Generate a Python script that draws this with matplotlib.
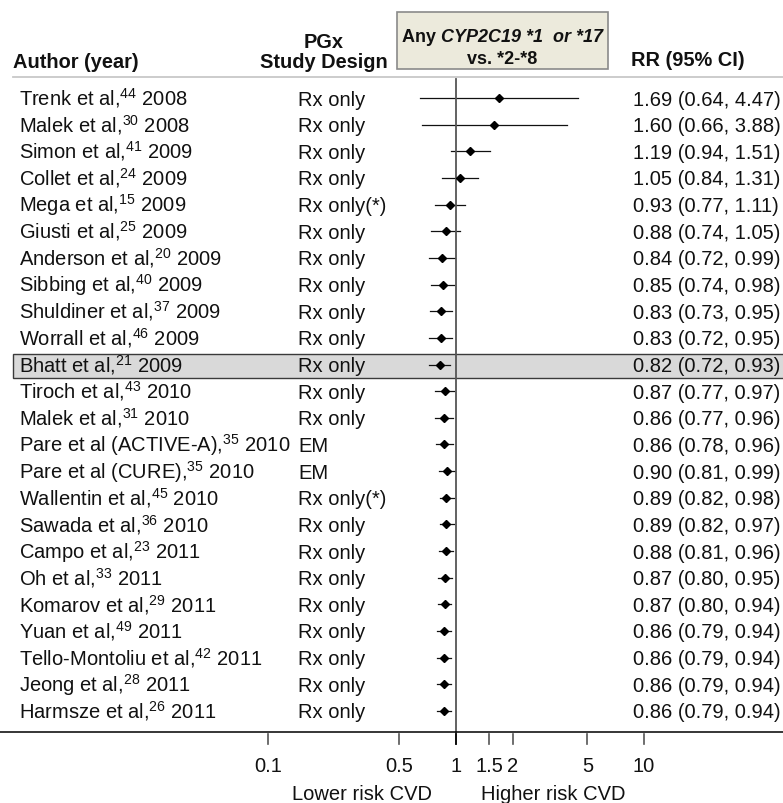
import matplotlib
matplotlib.use("Agg")
import matplotlib.pyplot as plt
from matplotlib.patches import Rectangle
import numpy as np

plt.rcParams['font.family'] = ['Liberation Sans', 'DejaVu Sans']
plt.rcParams['mathtext.fontset'] = 'custom'
plt.rcParams['mathtext.rm'] = 'Liberation Sans'
plt.rcParams['mathtext.it'] = 'Liberation Sans:italic'
plt.rcParams['mathtext.bf'] = 'Liberation Sans:bold'
plt.rcParams['mathtext.default'] = 'regular'

# ---------------- data ----------------
authors = ["Trenk et al", "Malek et al", "Simon et al", "Collet et al", "Mega et al",
           "Giusti et al", "Anderson et al", "Sibbing et al", "Shuldiner et al",
           "Worrall et al", "Bhatt et al", "Tiroch et al", "Malek et al",
           "Pare et al (ACTIVE-A)", "Pare et al (CURE)", "Wallentin et al",
           "Sawada et al", "Campo et al", "Oh et al", "Komarov et al", "Yuan et al",
           "Tello-Montoliu et al", "Jeong et al", "Harmsze et al"]
refs = ["44", "30", "41", "24", "15", "25", "20", "40", "37", "46", "21", "43", "31",
        "35", "35", "45", "36", "23", "33", "29", "49", "42", "28", "26"]
years = ["2008", "2008", "2009", "2009", "2009", "2009", "2009", "2009", "2009", "2009",
         "2009", "2010", "2010", "2010", "2010", "2010", "2010", "2011", "2011", "2011",
         "2011", "2011", "2011", "2011"]
designs = ["Rx only", "Rx only", "Rx only", "Rx only", "Rx only(*)", "Rx only", "Rx only",
           "Rx only", "Rx only", "Rx only", "Rx only", "Rx only", "Rx only", "EM", "EM",
           "Rx only(*)", "Rx only", "Rx only", "Rx only", "Rx only", "Rx only", "Rx only",
           "Rx only", "Rx only"]
rr = [1.69, 1.60, 1.19, 1.05, 0.93, 0.88, 0.84, 0.85, 0.83, 0.83, 0.82, 0.87, 0.86,
      0.86, 0.90, 0.89, 0.89, 0.88, 0.87, 0.87, 0.86, 0.86, 0.86, 0.86]
lo = [0.64, 0.66, 0.94, 0.84, 0.77, 0.74, 0.72, 0.74, 0.73, 0.72, 0.72, 0.77, 0.77,
      0.78, 0.81, 0.82, 0.82, 0.81, 0.80, 0.80, 0.79, 0.79, 0.79, 0.79]
hi = [4.47, 3.88, 1.51, 1.31, 1.11, 1.05, 0.99, 0.98, 0.95, 0.95, 0.93, 0.97, 0.96,
      0.96, 0.99, 0.98, 0.97, 0.96, 0.95, 0.94, 0.94, 0.94, 0.94, 0.94]
highlight_index = 10
tick_values = [0.1, 0.5, 1, 1.5, 2, 5, 10]
tick_labels = ["0.1", "0.5", "1", "1.5", "2", "5", "10"]

# ---------------- layout ----------------
W, H = 783, 804
fig = plt.figure(figsize=(W / 100, H / 100), dpi=100)
ax = fig.add_axes([0, 0, 1, 1])
ax.set_xscale('log')
x_one_px, px_per_decade = 456.0, 188.0
ax.set_xlim(10 ** ((0 - x_one_px) / px_per_decade), 10 ** ((W - x_one_px) / px_per_decade))
ax.set_ylim(H, 0)
ax.axis('off')

ytr = ax.get_yaxis_transform()  # x in axes fraction, y in data(pixels)


def fx(p):
    return p / W


row0, step = 99.0, 26.65
n = len(authors)
ys = row0 + step * np.arange(n)

FS = 14.5
TXT = '#111111'
BASE = 6.5  # baseline offset below row centre
# highlighted row box
yb = ys[highlight_index]
ax.add_patch(Rectangle((fx(13), yb - 11), fx(W) - fx(13) + 0.01, 24, transform=ytr,
                       facecolor='#D9D9D9', edgecolor='#3a3a3a', lw=1.0, zorder=1))

# headers
HFS = 14.4
ax.text(fx(13), 63, "Author (year)", transform=ytr, ha='left', va='center',
        fontsize=HFS, fontweight='bold', color=TXT)
ax.text(fx(324), 42, "PGx", transform=ytr, ha='center', va='center',
        fontsize=HFS, fontweight='bold', color=TXT)
ax.text(fx(324), 63, "Study Design", transform=ytr, ha='center', va='center',
        fontsize=HFS, fontweight='bold', color=TXT)
ax.text(fx(631), 60, "RR (95% CI)", transform=ytr, ha='left', va='center',
        fontsize=HFS, fontweight='bold', color=TXT)
ax.add_patch(Rectangle((fx(397), 13), fx(608) - fx(397), 57, transform=ytr,
                       facecolor='#ECEADC', edgecolor='#8a8a8a', lw=1.2, zorder=2))

# box title: "Any " bold + "CYP2C19 *1  or *17" bold italic, centred together
BFS = 13.0
renderer = fig.canvas.get_renderer()
t1 = ax.text(0, 37, "Any ", transform=ytr, ha='left', va='center', fontsize=BFS,
             fontweight='bold', color=TXT, zorder=3)
t2 = ax.text(0, 37, "CYP2C19 *1  or *17", transform=ytr, ha='left', va='center',
             fontsize=BFS, fontweight='bold', fontstyle='italic', color=TXT, zorder=3)
w1 = t1.get_window_extent(renderer).width
w2 = t2.get_window_extent(renderer).width
start = 502.5 - (w1 + w2) / 2
t1.set_x(fx(start))
t2.set_x(fx(start + w1))
ax.text(fx(502.5), 60, "vs. *2-*8", transform=ytr, ha='center', va='center',
        fontsize=BFS, fontweight='bold', color=TXT, zorder=3)
ax.plot([fx(13), fx(W)], [78, 78], transform=ytr, color='#C8C8C8', lw=1.3, zorder=1)

# rows
for i in range(n):
    y = ys[i]
    ax.text(fx(19), y + BASE, f"{authors[i]},$^{{{refs[i]}}}$ {years[i]}", transform=ytr,
            ha='left', va='baseline', fontsize=FS, color=TXT, zorder=3)
    ax.text(fx(298), y + BASE, designs[i], transform=ytr, ha='left', va='baseline',
            fontsize=FS, color=TXT, zorder=3)
    ax.text(fx(633), y + BASE, f"{rr[i]:.2f} ({lo[i]:.2f}, {hi[i]:.2f})", transform=ytr,
            ha='left', va='baseline', fontsize=FS, color=TXT, zorder=3)
    ax.plot([lo[i], hi[i]], [y, y], color='#111111', lw=0.9, zorder=4)
    ax.plot([rr[i]], [y], marker='D', ms=4, color='#000000', zorder=5)

# reference line at 1
ax.plot([1, 1], [80, 745], color='#555555', lw=1.3, zorder=4)

# bottom axis
ax.plot([fx(0), fx(W)], [733, 733], transform=ytr, color='#000000', lw=1.1, zorder=4)
for v, lab in zip(tick_values, tick_labels):
    ax.plot([v, v], [735, 745], color='#000000' if v == 1 else '#555555', lw=1.2, zorder=4)
    ax.text(v, 767, lab, ha='center', va='center', fontsize=14.5, color=TXT)
ax.text(fx(432), 795, "Lower risk CVD", transform=ytr, ha='right', va='center',
        fontsize=14.5, color=TXT)
ax.text(fx(481), 795, "Higher risk CVD", transform=ytr, ha='left', va='center',
        fontsize=14.5, color=TXT)

fig.savefig("out.png", dpi=100)
